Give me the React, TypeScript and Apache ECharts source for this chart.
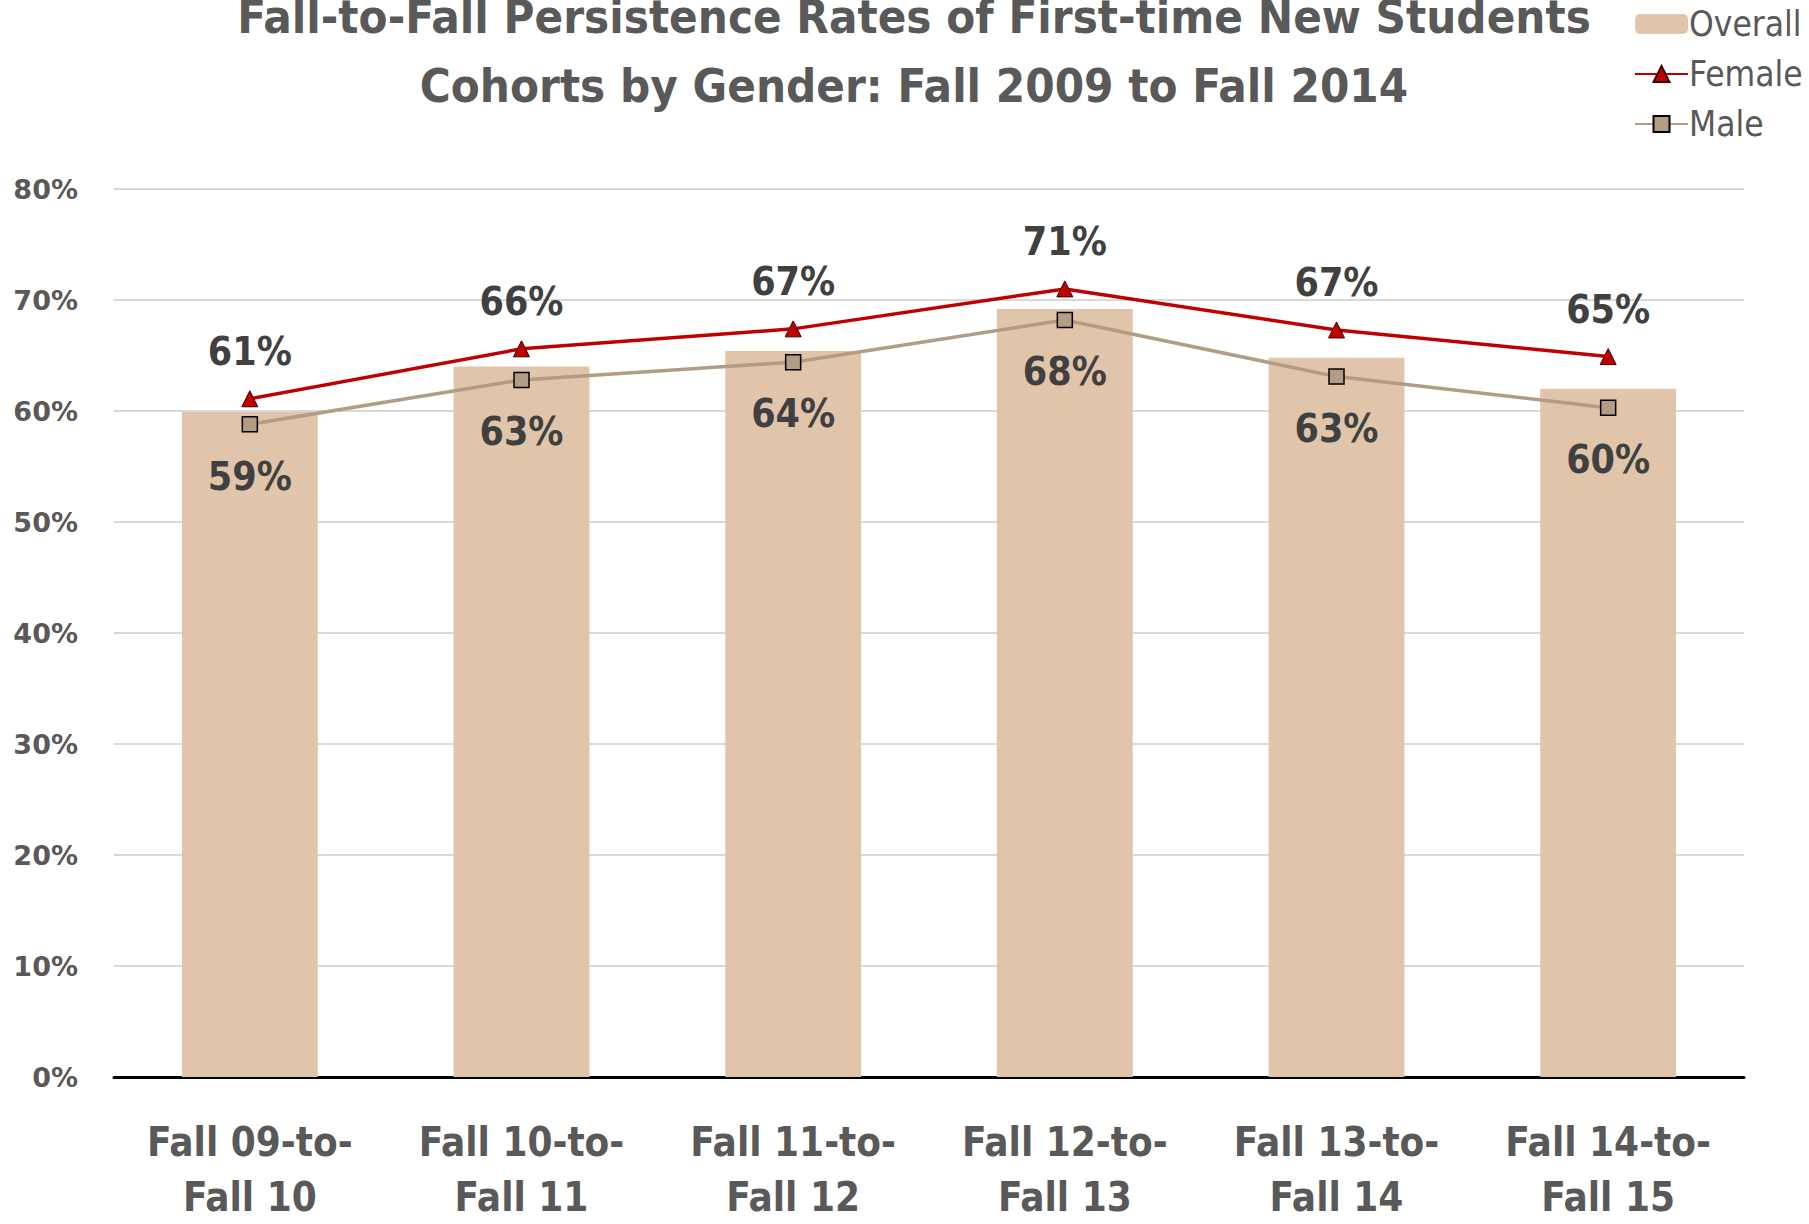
import React, { useEffect, useRef } from "react";
import * as echarts from "echarts";

const categories = [
  "Fall 09-to-\nFall 10",
  "Fall 10-to-\nFall 11",
  "Fall 11-to-\nFall 12",
  "Fall 12-to-\nFall 13",
  "Fall 13-to-\nFall 14",
  "Fall 14-to-\nFall 15",
];
const overall = [59.9, 64.0, 65.4, 69.2, 64.8, 62.0];
const female = [61.1, 65.6, 67.4, 71.0, 67.3, 64.9];
const male = [58.8, 62.8, 64.4, 68.2, 63.1, 60.3];
const titleLines = [
  "Fall-to-Fall Persistence Rates of First-time New Students",
  "Cohorts by Gender: Fall 2009 to Fall 2014",
];

const NARROW = "'Liberation Sans Narrow', 'DejaVu Sans Condensed', sans-serif";

export default function App() {
  const ref = useRef<HTMLDivElement>(null);
  useEffect(() => {
    if (!ref.current) return;
    const chart = echarts.init(ref.current, undefined, { renderer: "svg" });
    chart.setOption({
      animation: false,
      backgroundColor: "#ffffff",
      title: {
        text: titleLines.join("\n"),
        left: 914,
        top: -18,
        padding: 0,
        textAlign: "center",
        textStyle: {
          fontFamily: NARROW,
          fontWeight: "bold",
          fontSize: 47,
          lineHeight: 69,
          color: "#595959",
        },
      },
      legend: {
        orient: "vertical",
        left: 1629,
        top: -3,
        itemWidth: 53,
        itemHeight: 20,
        itemGap: 6,
        data: ["Overall", "Female", "Male"],
        textStyle: {
          fontFamily: NARROW,
          fontSize: 35,
          lineHeight: 44,
          color: "#595959",
          padding: [0, 0, 0, -4],
        },
      },
      grid: { left: 114, right: 65, top: 189, bottom: 138, containLabel: false },
      xAxis: {
        type: "category",
        data: categories,
        axisLine: { lineStyle: { color: "#000000", width: 3 } },
        axisTick: { show: false },
        axisLabel: {
          margin: 37,
          fontFamily: NARROW,
          fontWeight: "bold",
          fontSize: 40,
          lineHeight: 55,
          color: "#595959",
          interval: 0,
        },
      },
      yAxis: {
        type: "value",
        min: 0,
        max: 80,
        interval: 10,
        axisLine: { show: false },
        axisTick: { show: false },
        splitLine: { lineStyle: { color: "#D9D9D9", width: 2 } },
        axisLabel: {
          formatter: "{value}%",
          margin: 36,
          fontFamily: "'DejaVu Sans', sans-serif",
          fontWeight: "bold",
          fontSize: 27,
          color: "#595959",
        },
      },
      series: [
        {
          name: "Overall",
          type: "bar",
          data: overall,
          barWidth: "50%",
          itemStyle: { color: "#E0C5AA" },
          z: 1,
        },
        {
          name: "Female",
          type: "line",
          data: female,
          symbol: "triangle",
          symbolSize: 16,
          lineStyle: { color: "#C00000", width: 3.5 },
          itemStyle: { color: "#C00000", borderColor: "#3a0000", borderWidth: 1 },
          label: {
            show: true,
            position: "top",
            distance: 19,
            formatter: (p: any) => Math.round(p.value) + "%",
            fontFamily: NARROW,
            fontWeight: "bold",
            fontSize: 39,
            color: "#404040",
          },
          z: 3,
        },
        {
          name: "Male",
          type: "line",
          data: male,
          symbol: "rect",
          symbolSize: 15,
          lineStyle: { color: "#B39C84", width: 3.5 },
          itemStyle: { color: "#B39C84", borderColor: "#000000", borderWidth: 1.5 },
          label: {
            show: true,
            position: "bottom",
            distance: 24,
            formatter: (p: any) => Math.round(p.value) + "%",
            fontFamily: NARROW,
            fontWeight: "bold",
            fontSize: 39,
            color: "#404040",
          },
          z: 2,
        },
      ],
    });
    return () => chart.dispose();
  }, []);
  return (
    <div
      ref={ref}
      style={{ position: "absolute", left: 0, top: 0, width: 1809, height: 1224 }}
    />
  );
}
